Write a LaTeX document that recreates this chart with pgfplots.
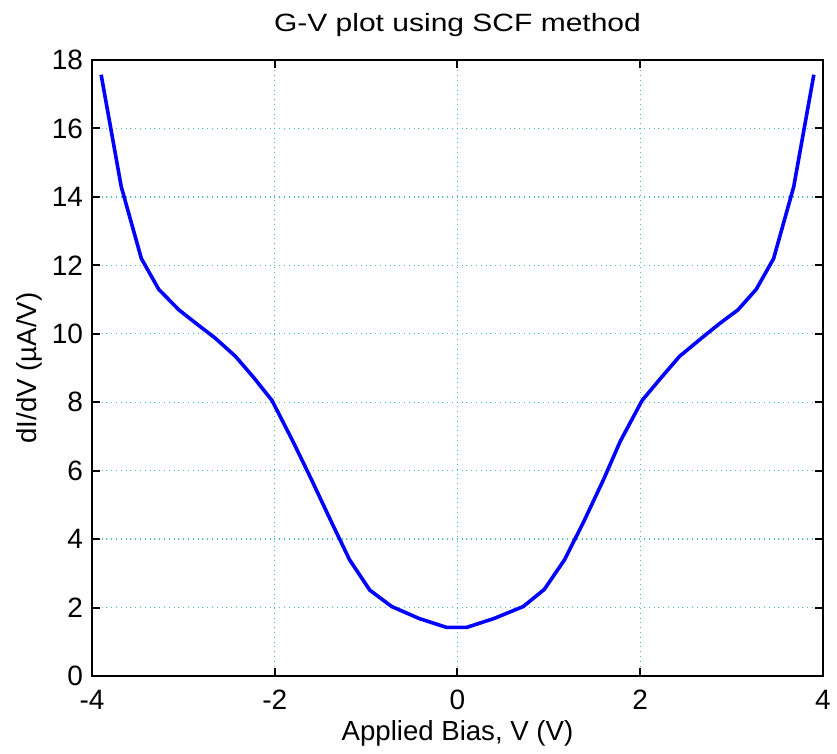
\documentclass[border=0pt]{standalone}
\usepackage{pgfplots}
\pgfplotsset{compat=1.18}
\usepackage{fontspec}
\setmainfont{Liberation Sans}
\definecolor{gridc}{RGB}{70,185,195}
\begin{document}
\begin{tikzpicture}
\begin{axis}[
  name=ax,
  anchor=south west,
  at={(0pt,0pt)},
  scale only axis,
  width=365.5pt, height=308pt,
  xmin=-4, xmax=4, ymin=0, ymax=18,
  xtick={-4,-2,0,2,4},
  ytick={0,2,...,18},
  tick align=inside,
  major tick length=4pt,
  tick style={black, line width=1pt},
  axis line style={black, line width=1pt},
  grid=major,
  major grid style={gridc, dotted, line width=0.7pt},
  /pgf/number format/assume math mode=true,
  tick label style={font=\fontsize{14}{16}\selectfont},
  xticklabel style={yshift=-3.5pt},
  yticklabel style={xshift=-1pt},
  title={G-V plot using SCF method},
  title style={font=\fontsize{12.5}{14}\selectfont\addfontfeatures{FakeStretch=1.2}, yshift=2pt},
  xlabel={Applied Bias, V (V)},
  ylabel={dI/dV (µA/V)},
  label style={font=\fontsize{13.8}{15}\selectfont},
  xlabel style={yshift=1.5pt},
  ylabel style={yshift=-2pt},
]
\addplot[blue, line width=1.8pt] coordinates {
(-3.90,17.57) (-3.68,14.3) (-3.46,12.2) (-3.27,11.3) (-3.05,10.7) (-2.85,10.28)
(-2.65,9.87) (-2.43,9.34) (-2.23,8.72) (-2.03,8.05) (-1.80,6.85) (-1.60,5.75)
(-1.38,4.5) (-1.18,3.39) (-0.96,2.51) (-0.72,2.03) (-0.42,1.68) (-0.12,1.42)
(0.10,1.42) (0.40,1.68) (0.72,2.03) (0.95,2.53) (1.17,3.39) (1.38,4.5)
(1.60,5.75) (1.78,6.85) (2.02,8.05) (2.23,8.72) (2.43,9.34) (2.67,9.87)
(2.86,10.28) (3.07,10.7) (3.27,11.3) (3.46,12.2) (3.68,14.3) (3.90,17.57)
};
\end{axis}
\pgfresetboundingbox
\useasboundingbox (-46pt,-39pt) rectangle (372.5pt,338pt);
\end{tikzpicture}
\end{document}
